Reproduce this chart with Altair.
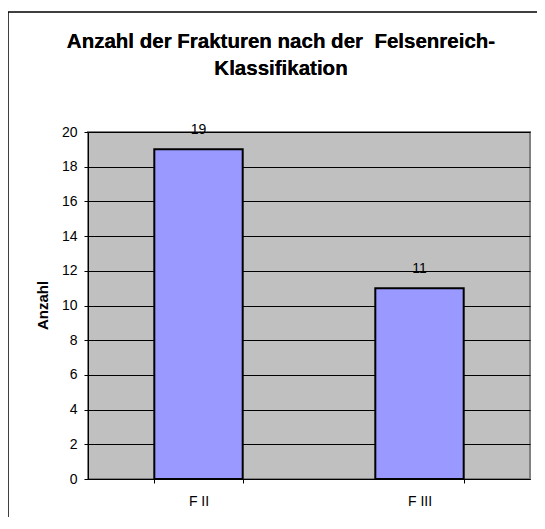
import altair as alt
import pandas as pd

categories = ["F II", "F III"]
values = [19, 11]
y_ticks = [0, 2, 4, 6, 8, 10, 12, 14, 16, 18, 20]
title_lines = ["Anzahl der Frakturen nach der \u00a0Felsenreich-", "Klassifikation"]
y_title = "Anzahl"

df = pd.DataFrame({"kat": categories, "anzahl": values})

FONT = "Liberation Sans"

x_enc = alt.X(
    "kat:N",
    sort=categories,
    scale=alt.Scale(paddingInner=0.6, paddingOuter=0.3),
    axis=alt.Axis(
        title=None, labelAngle=0, labelFontSize=14, labelFont=FONT, labelColor="black",
        labelPadding=11, tickSize=4, tickBand="extent", tickColor="black",
        domainColor="black", domainWidth=1, grid=False,
    ),
)
y_enc = alt.Y(
    "anzahl:Q",
    scale=alt.Scale(domain=[0, 20], nice=False),
    axis=alt.Axis(
        values=y_ticks, labelOverlap=False, labelFontSize=14, labelFont=FONT,
        labelColor="black", labelPadding=7, tickSize=4, tickColor="black",
        domainColor="black", grid=True, gridColor="black", gridWidth=1,
        title=y_title, titleFont=FONT, titleFontSize=15, titleFontWeight="bold",
        titleColor="black", titleAngle=-90, titleX=-46, titleY=173,
        titleAlign="center", titleBaseline="middle",
    ),
)

frame = alt.Chart(df).mark_rect(fillOpacity=0, stroke="black", strokeWidth=1).encode(
    x=alt.value(-80), x2=alt.value(700), y=alt.value(-120), y2=alt.value(700)
)

title = alt.Chart(df).mark_text(
    text=title_lines, font=FONT, fontSize=20.5, fontWeight="bold", color="black",
    align="center", baseline="alphabetic", lineHeight=27,
).encode(x=alt.value(193), y=alt.value(-84))

bars = alt.Chart(df).mark_bar(color="#9999ff", stroke="black", strokeWidth=2).encode(
    x=x_enc, y=y_enc
)

labels = alt.Chart(df).mark_text(
    baseline="alphabetic", dy=-15, fontSize=14, font=FONT, color="black"
).encode(x=x_enc, y=y_enc, text="anzahl:Q")

chart = (
    alt.layer(frame, title, bars, labels)
    .properties(
        width=442,
        height=347,
        autosize=alt.AutoSizeParams(type="none"),
        padding={"left": 80, "top": 124, "right": 7, "bottom": 38},
        background="white",
    )
    .configure_view(fill="#c0c0c0", stroke="#808080", strokeWidth=2)
)

chart.save("out.html", embed_options={"renderer": "svg", "actions": False})
